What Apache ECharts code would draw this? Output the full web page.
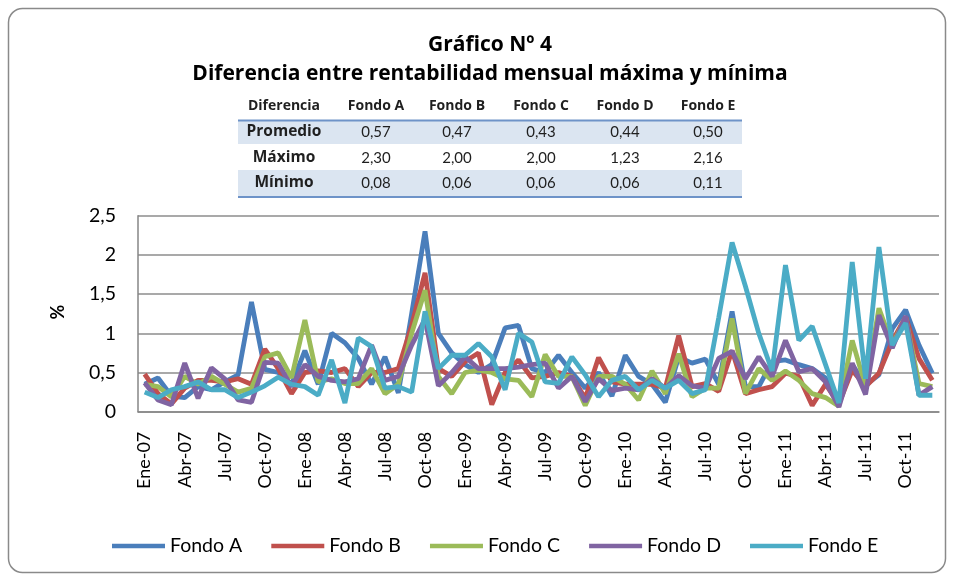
<!DOCTYPE html>
<html><head><meta charset="utf-8">
<script src="https://cdn.jsdelivr.net/npm/echarts@6/dist/echarts.min.js"></script>
<style>html,body{margin:0;padding:0;background:#fff}#c{width:954px;height:578px}</style>
</head><body><div id="c"></div>
<script>
const categories = [
 'Ene-07','Feb-07','Mar-07','Abr-07','May-07','Jun-07','Jul-07','Ago-07','Sep-07','Oct-07','Nov-07','Dic-07',
 'Ene-08','Feb-08','Mar-08','Abr-08','May-08','Jun-08','Jul-08','Ago-08','Sep-08','Oct-08','Nov-08','Dic-08',
 'Ene-09','Feb-09','Mar-09','Abr-09','May-09','Jun-09','Jul-09','Ago-09','Sep-09','Oct-09','Nov-09','Dic-09',
 'Ene-10','Feb-10','Mar-10','Abr-10','May-10','Jun-10','Jul-10','Ago-10','Sep-10','Oct-10','Nov-10','Dic-10',
 'Ene-11','Feb-11','Mar-11','Abr-11','May-11','Jun-11','Jul-11','Ago-11','Sep-11','Oct-11','Nov-11','Dic-11'
];
const fondoA = [0.35,0.43,0.20,0.18,0.32,0.28,0.38,0.47,1.40,0.54, 0.50,0.35,0.78,0.35,1.00,0.88,0.68,0.35,0.70,0.24,
 1.25,2.30,1.00,0.75,0.60,0.50,0.60,1.07,1.10,0.55, 0.50,0.72,0.50,0.30,0.50,0.20,0.72,0.45,0.35,0.12,
 0.70,0.62,0.67,0.35,1.28,0.32,0.32,0.64,0.66,0.60, 0.55,0.43,0.10,0.60,0.34,0.47,1.06,1.30,0.85,0.49];
const fondoB = [0.48,0.23,0.10,0.30,0.40,0.40,0.38,0.42,0.35,0.80, 0.55,0.23,0.50,0.52,0.50,0.55,0.32,0.50,0.50,0.55,
 1.10,1.77,0.55,0.45,0.64,0.75,0.09,0.50,0.66,0.43, 0.45,0.50,0.45,0.17,0.69,0.38,0.35,0.35,0.35,0.30,
 0.97,0.32,0.36,0.26,0.78,0.23,0.28,0.32,0.49,0.45, 0.08,0.35,0.10,0.53,0.32,0.49,0.90,1.21,0.68,0.40];
const fondoC = [0.35,0.32,0.19,0.45,0.35,0.45,0.35,0.25,0.30,0.70, 0.75,0.43,1.17,0.38,0.42,0.36,0.36,0.55,0.23,0.35,
 1.00,1.55,0.45,0.23,0.50,0.53,0.50,0.42,0.40,0.19, 0.73,0.45,0.45,0.08,0.45,0.45,0.35,0.15,0.52,0.23,
 0.74,0.19,0.30,0.30,1.19,0.23,0.55,0.40,0.52,0.40, 0.23,0.18,0.07,0.91,0.32,1.32,0.85,1.20,0.36,0.32];
const fondoD = [0.37,0.15,0.09,0.62,0.17,0.56,0.42,0.15,0.12,0.63, 0.62,0.32,0.60,0.45,0.40,0.38,0.42,0.85,0.40,0.45,
 0.85,1.18,0.33,0.50,0.70,0.55,0.55,0.55,0.57,0.60, 0.62,0.30,0.45,0.13,0.42,0.27,0.30,0.28,0.42,0.30,
 0.46,0.33,0.30,0.68,0.77,0.42,0.70,0.45,0.91,0.51, 0.55,0.38,0.06,0.62,0.22,1.23,0.81,1.22,0.21,0.32];
const fondoE = [0.25,0.18,0.28,0.32,0.38,0.28,0.28,0.18,0.25,0.33, 0.44,0.35,0.32,0.21,0.66,0.11,0.94,0.83,0.30,0.32,
 0.25,1.28,0.55,0.72,0.72,0.87,0.70,0.28,1.00,0.89, 0.38,0.36,0.70,0.47,0.19,0.40,0.45,0.28,0.40,0.30,
 0.40,0.23,0.28,1.20,2.16,1.60,1.00,0.52,1.87,0.91, 1.09,0.60,0.11,1.91,0.42,2.10,0.85,1.13,0.21,0.21];
const seriesNames = ['Fondo A','Fondo B','Fondo C','Fondo D','Fondo E'];
const seriesColors = ['#4a7ebb','#c0504d','#9bbb59','#8064a2','#4bacc6'];

const tableHeader = ['Diferencia','Fondo A','Fondo B','Fondo C','Fondo D','Fondo E'];
const tableRowLabels = ['Promedio','Máximo','Mínimo'];
const tablePromedio = ['0,57','0,47','0,43','0,44','0,50'];
const tableMaximo = ['2,30','2,00','2,00','1,23','2,16'];
const tableMinimo = ['0,08','0,06','0,06','0,06','0,11'];

const FONT = 'Lato, "Open Sans", sans-serif';
const BFONT = '"Open Sans", Lato, sans-serif';
const chart = echarts.init(document.getElementById('c'), null, {renderer:'canvas'});

const colX = [284, 376, 457, 541, 625, 708];
const headerY = 106, rowY = [132, 158, 183];
const g = [];
g.push({type:'rect', shape:{x:8.5,y:8.5,width:937,height:564,r:14}, style:{fill:'none',stroke:'#8a8a8a',lineWidth:1.5}, z:0});
g.push({type:'rect', shape:{x:238,y:121,width:504,height:23}, style:{fill:'#dbe5f1'}, z:1});
g.push({type:'rect', shape:{x:238,y:170,width:504,height:26}, style:{fill:'#dbe5f1'}, z:1});
g.push({type:'rect', shape:{x:238,y:119.5,width:504,height:2}, style:{fill:'#6e93c8'}, z:2});
g.push({type:'rect', shape:{x:238,y:196,width:504,height:2}, style:{fill:'#6e93c8'}, z:2});
tableHeader.forEach((t,i)=>g.push({type:'text', x:colX[i], y:headerY, style:{text:t, font:'bold 14px '+BFONT, fill:'#1f1f1f', textAlign:'center', textVerticalAlign:'middle'}, z:3}));
const rows = [tablePromedio, tableMaximo, tableMinimo];
tableRowLabels.forEach((t,r)=>{
  g.push({type:'text', x:colX[0], y:rowY[r], style:{text:t, font:'bold 15.5px '+BFONT, fill:'#1f1f1f', textAlign:'center', textVerticalAlign:'middle'}, z:3});
  rows[r].forEach((v,i)=>g.push({type:'text', x:colX[i+1], y:rowY[r], style:{text:v, font:'15px '+FONT, fill:'#1f1f1f', textAlign:'center', textVerticalAlign:'middle'}, z:3}));
});
g.push({type:'text', x:490, y:45, style:{text:'Gráfico Nº 4', font:'bold 21px '+BFONT, fill:'#000', textAlign:'center', textVerticalAlign:'middle'}, z:3});
g.push({type:'text', x:490, y:74, style:{text:'Diferencia entre rentabilidad mensual máxima y mínima', font:'bold 21px '+BFONT, fill:'#000', textAlign:'center', textVerticalAlign:'middle'}, z:3});
g.push({type:'text', x:58, y:312, rotation:Math.PI/2, style:{text:'%', font:'bold 18px '+FONT, fill:'#000', textAlign:'center', textVerticalAlign:'middle'}, z:3});

const dataArr = [fondoA, fondoB, fondoC, fondoD, fondoE];
chart.setOption({
  animation:false,
  backgroundColor:'#fff',
  graphic:g,
  grid:{left:138, right:15, top:215.7, bottom:166.3, containLabel:false},
  legend:{data:seriesNames, left:107, top:531, icon:'rect', itemWidth:53, itemHeight:4.5, itemGap:29,
    textStyle:{fontFamily:FONT, fontSize:19.5, color:'#000'}},
  xAxis:{type:'category', data:categories, boundaryGap:true,
    axisLine:{lineStyle:{color:'#868686', width:1.5}}, axisTick:{show:false},
    axisLabel:{interval:2, rotate:90, margin:20, fontFamily:FONT, fontSize:18, color:'#000'}},
  yAxis:{type:'value', min:0, max:2.5, interval:0.5,
    axisLine:{show:true, lineStyle:{color:'#868686', width:1.5}}, axisTick:{show:false},
    splitLine:{lineStyle:{color:'#8c8c8c', width:1.5}},
    axisLabel:{margin:22, fontFamily:FONT, fontSize:19.5, color:'#000', formatter:v=>String(v).replace('.',',')}},
  series: seriesNames.map((n,i)=>({name:n, type:'line', data:dataArr[i], symbol:'none', smooth:false,
    lineStyle:{width:4.8, color:seriesColors[i]}, itemStyle:{color:seriesColors[i]}}))
});
</script></body></html>
